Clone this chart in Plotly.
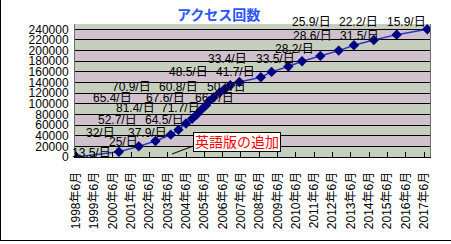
import plotly.graph_objects as go

# ---- data ----
dates = ["1998-06-01", "2000-10-01", "2001-11-01", "2002-10-01", "2003-08-01",
         "2004-01-01", "2004-06-01", "2004-10-01", "2005-01-01", "2005-04-01",
         "2005-07-01", "2005-09-01", "2005-12-01", "2006-04-01", "2006-07-01",
         "2006-11-01", "2007-05-01", "2008-07-01", "2009-02-01", "2010-01-01",
         "2010-10-01", "2011-10-01", "2012-10-01", "2013-08-01", "2014-09-01",
         "2015-12-01", "2017-08-01"]
counts = [0, 10000, 20000, 30000, 42000, 51000, 63000, 72000, 80000, 89000,
          97000, 105000, 112000, 121000, 127000, 135000, 141000, 150000, 160000,
          170000, 180000, 190000, 200000, 210000, 220000, 230000, 240000]
tick_years = list(range(1998, 2018))
tick_vals = [f"{y}-06-01" for y in tick_years]
tick_text = [f"{y}年6月" for y in tick_years]
y_ticks = list(range(0, 240001, 20000))
rate_labels = ["13.5/日", "25/日", "32/日", "37.9/日", "52.7/日", "64.5/日",
               "81.4/日", "71.7/日", "65.4/日", "67.6/日", "66.7/日", "70.9/日",
               "60.8/日", "50.5/日", "48.5/日", "41.7/日", "33.4/日", "33.5/日",
               "28.2/日", "28.6/日", "31.5/日", "25.9/日", "22.2/日", "15.9/日"]
title_text = "アクセス回数"
note_text = "英語版の追加"

# ---- layout geometry (pixels) ----
W, H = 451, 244
L, R, T, B = 75, 430, 24, 157
label_px = [(70, 153), (107, 142), (84, 133), (126, 133), (96, 120), (143, 120),
            (114, 108), (159, 108), (91, 98), (144, 98), (193, 98), (110, 87),
            (157, 87), (205, 87), (167, 72), (214, 72), (206, 59), (254, 59),
            (273, 49), (291, 36), (338, 36), (290, 22), (337, 22), (385, 22)]


def px(x):
    return (x - L) / (R - L)


def py(y):
    return (B - y) / (B - T)


FONT = "Liberation Sans, Arial, Noto Sans CJK JP, sans-serif"

fig = go.Figure()
fig.add_trace(go.Scatter(
    x=dates, y=counts, mode="lines+markers",
    line=dict(color="#2a35c8", width=1.5),
    marker=dict(symbol="diamond", size=8, color="#000080"),
    showlegend=False, hoverinfo="skip"))

shapes = []
band_colors = ["#c6cebd", "#cfc2cc"]
bounds = y_ticks + [250000]
for i in range(len(bounds) - 1):
    shapes.append(dict(type="rect", xref="paper", yref="y", x0=0, x1=1,
                       y0=bounds[i], y1=bounds[i + 1], layer="below",
                       line=dict(width=0), fillcolor=band_colors[i % 2]))
# outer chart border (left, bottom)
shapes.append(dict(type="line", xref="paper", yref="paper", x0=px(0.5), x1=px(0.5),
                   y0=py(240), y1=py(0), line=dict(color="black", width=1)))
shapes.append(dict(type="line", xref="paper", yref="paper", x0=px(0), x1=px(W),
                   y0=py(240.5), y1=py(240.5), line=dict(color="black", width=1)))
# callout line
shapes.append(dict(type="line", xref="paper", yref="paper", x0=px(172), x1=px(196),
                   y0=py(154), y1=py(145), line=dict(color="black", width=1)))

annotations = []
for txt, (lx, ly) in zip(rate_labels, label_px):
    annotations.append(dict(text=txt, xref="paper", yref="paper", x=px(lx), y=py(ly),
                            xanchor="left", yanchor="middle", showarrow=False,
                            font=dict(family=FONT, size=12, color="black")))
annotations.append(dict(text="<b>" + title_text + "</b>", xref="paper", yref="paper",
                        x=px(218), y=py(15), xanchor="center", yanchor="middle",
                        showarrow=False,
                        font=dict(family=FONT, size=14, color="#2b55ff")))
annotations.append(dict(text=note_text, xref="paper", yref="paper", x=px(237), y=py(141.5),
                        xanchor="center", yanchor="middle", showarrow=False,
                        bgcolor="white", bordercolor="black", borderwidth=1, borderpad=1,
                        font=dict(family=FONT, size=14, color="#ff0000")))

fig.update_layout(
    width=W, height=H,
    margin=dict(l=L, r=W - R, t=T, b=H - B, pad=0),
    paper_bgcolor="white", plot_bgcolor="#c9c4c6",
    shapes=shapes, annotations=annotations,
    font=dict(family=FONT, size=12, color="black"),
    xaxis=dict(type="date", range=["1998-05-10", "2017-09-25"],
               tickvals=tick_vals, ticktext=tick_text, tickangle=-90,
               ticks="inside", ticklen=5, tickcolor="black", ticklabelstandoff=9,
               showgrid=False, showline=True, linecolor="black", mirror=False,
               tickfont=dict(family=FONT, size=12, color="black"), zeroline=False),
    yaxis=dict(range=[0, 250000], tickvals=y_ticks, ticktext=[str(v) for v in y_ticks],
               showgrid=True, gridcolor="black", gridwidth=1, ticklabelstandoff=3,
               showline=True, linecolor="#707070", mirror=True, ticks="",
               tickfont=dict(family=FONT, size=12, color="black"), zeroline=False),
)
fig.write_html("out.html")
